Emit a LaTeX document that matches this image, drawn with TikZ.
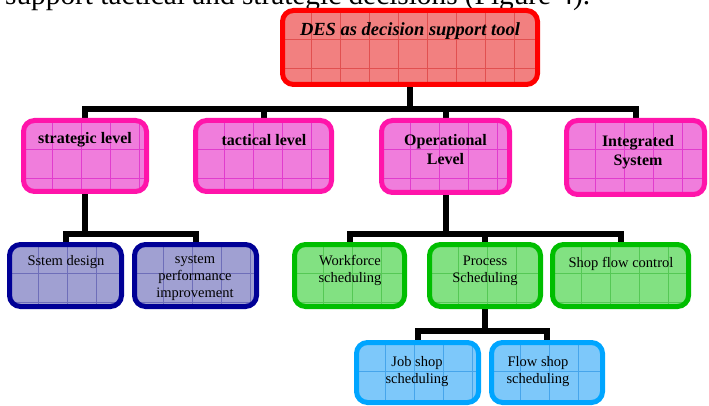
\documentclass[tikz,border=0pt]{standalone}
\usepackage{fontspec}
\setmainfont{Liberation Serif}
\usetikzlibrary{backgrounds}
\definecolor{redline}{RGB}{255,0,0}
\definecolor{redfill}{RGB}{242,128,128}
\definecolor{redgrid}{RGB}{225,80,80}
\definecolor{pinkline}{RGB}{255,20,170}
\definecolor{pinkfill}{RGB}{240,125,220}
\definecolor{pinkgrid}{RGB}{225,60,205}
\definecolor{navyline}{RGB}{0,0,150}
\definecolor{navyfill}{RGB}{160,160,210}
\definecolor{navygrid}{RGB}{110,110,185}
\definecolor{greenline}{RGB}{0,190,0}
\definecolor{greenfill}{RGB}{130,225,130}
\definecolor{greengrid}{RGB}{85,200,85}
\definecolor{blueline}{RGB}{0,165,255}
\definecolor{bluefill}{RGB}{125,200,250}
\definecolor{bluegrid}{RGB}{70,165,235}
\begin{document}
\begin{tikzpicture}[x=1pt, y=-1pt,
        gridded/.style={path picture={
            \foreach \i in {1,...,9}
                \draw [#1, line width=0.6pt] ([xshift=\i*29pt] path picture bounding box.north west) to ([xshift=\i*29pt] path picture bounding box.south west);
            \foreach \i in {1,2}
                \draw [#1, line width=0.6pt] ([yshift=-\i*29pt] path picture bounding box.north west) to ([yshift=-\i*29pt] path picture bounding box.north east);
        }},
        box/.style n args={3}{draw=#1line, fill=#1fill, gridded=#1grid, line width=5pt, rounded corners=11pt, inner sep=0pt, minimum width=#2pt, minimum height=#3pt},
        hd/.style={font=\fontsize{18.5}{22}\selectfont\bfseries\itshape, inner sep=0pt},
        lvl/.style={font=\fontsize{16}{19}\selectfont\bfseries, align=center, inner sep=0pt},
        txt/.style={font=\fontsize{14.5}{17}\selectfont, align=center, inner sep=0pt},
        link/.style={line width=6pt, black}]
        \useasboundingbox (0, 0) rectangle (709, 406);
        \node [anchor=base west, inner sep=0pt, font=\fontsize{29.3}{35}\selectfont] (12) at (5, 5) {support tactical and strategic decisions (Figure 4).};
        \node [box={red}{255}{74}] (0) at (410, 47.5) {};
        \node [box={pink}{123}{71}] (1) at (85, 156) {};
        \node [box={pink}{136}{71}] (2) at (263.5, 156) {};
        \node [box={pink}{128}{72}] (3) at (445.5, 156.5) {};
        \node [box={pink}{138}{74}] (4) at (635.5, 157.5) {};
        \node [box={navy}{112}{62}] (5) at (65.5, 275.5) {};
        \node [box={navy}{122}{62}] (6) at (195.5, 275.5) {};
        \node [box={green}{110}{62}] (7) at (349.5, 275.5) {};
        \node [box={green}{111}{62}] (8) at (485, 275.5) {};
        \node [box={green}{136}{62}] (9) at (620.5, 275.5) {};
        \node [box={blue}{122}{60}] (10) at (417.5, 372.5) {};
        \node [box={blue}{111}{60}] (11) at (547, 372.5) {};
        \node [hd] (0t) at (410, 31) {DES as decision support tool};
        \node [lvl] (1t) at (85, 140) {strategic level};
        \node [lvl] (2t) at (264, 140) {tactical level};
        \node [lvl] (3t) at (445.5, 149.5) {Operational\\Level};
        \node [lvl] (4t) at (638, 152.5) {Integrated\\System};
        \node [txt] (5t) at (66, 262) {Sstem design};
        \node [txt] (6t) at (195, 278) {system\\performance\\improvement};
        \node [txt] (7t) at (350, 270.5) {Workforce\\scheduling};
        \node [txt] (8t) at (485, 270.5) {Process\\Scheduling};
        \node [txt] (9t) at (621, 264) {Shop flow control};
        \node [txt] (10t) at (417, 371.5) {Job shop\\scheduling};
        \node [txt] (11t) at (538, 371.5) {Flow shop\\scheduling};
        \begin{scope}[on background layer]
            \foreach \n in {1,2,3,4}
                \draw [link] (0.south) -- ++(0, 22.5) -| (\n.north);
            \foreach \n in {5,6}
                \draw [link] (1.south) -- ++(0, 39.5) -| (\n.north);
            \foreach \n in {7,8,9}
                \draw [link] (3.south) -- ++(0, 38.5) -| (\n.north);
            \foreach \n in {10,11}
                \draw [link] (8.south) -- ++(0, 21.5) -| (\n.north);
        \end{scope}
    \end{tikzpicture}
\end{document}
